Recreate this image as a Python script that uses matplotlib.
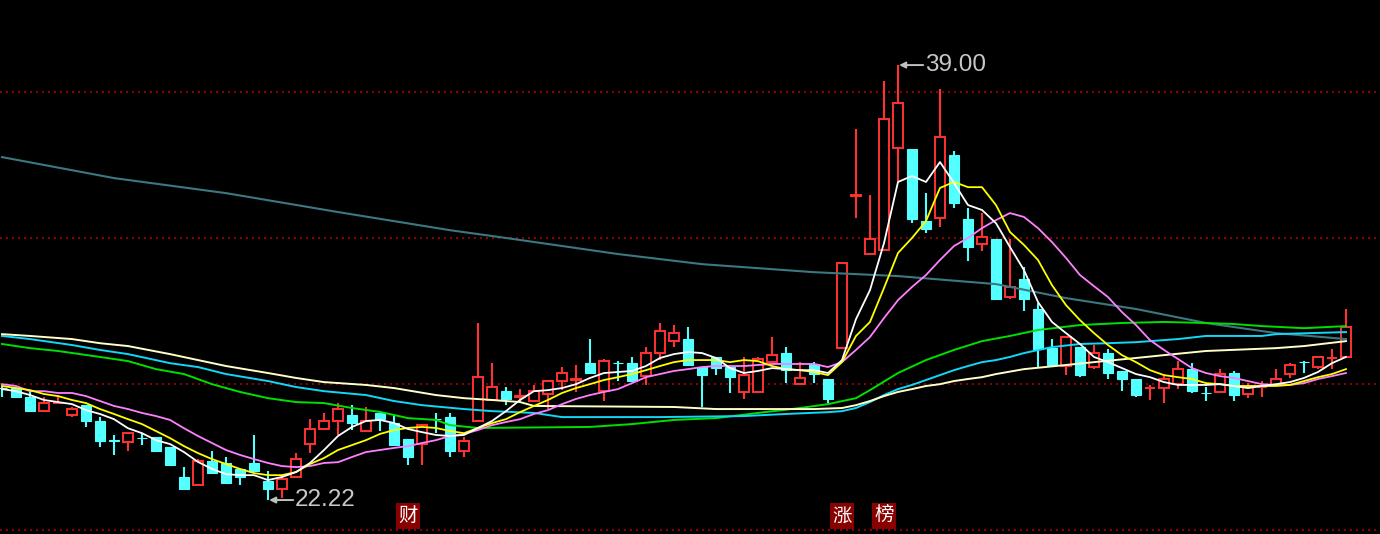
import matplotlib.pyplot as plt
import matplotlib.transforms as mtransforms
import numpy as np

plt.rcParams['font.family'] = ['Liberation Sans', 'Noto Sans CJK SC', 'DejaVu Sans']

# 日K线数据 (97 根)
opens = [26.55, 26.54, 26.19, 25.65, 25.95, 25.50, 25.88, 25.27, 24.52, 24.46,
         24.62, 24.65, 24.26, 23.11, 22.80, 23.72, 23.65, 23.42, 23.65, 22.95,
         22.64, 23.11, 24.38, 24.96, 25.27, 25.50, 24.88, 25.58, 25.19, 24.57,
         24.38, 25.36, 25.42, 24.11, 25.27, 26.08, 26.42, 26.21, 26.04, 26.31,
         26.81, 26.87, 27.50, 26.42, 27.51, 27.50, 27.00, 27.89, 28.35, 28.43,
         27.35, 27.74, 27.35, 26.39, 26.39, 27.54, 27.89, 26.69, 27.47, 26.89,
         28.08, 33.96, 31.71, 31.86, 35.80, 35.76, 32.98, 33.10, 35.53, 33.06,
         32.10, 32.29, 30.05, 30.74, 29.59, 28.08, 27.39, 28.12, 27.35, 27.89,
         27.20, 26.89, 26.53, 26.54, 26.69, 27.27, 26.36, 26.39, 27.12, 26.31,
         26.57, 26.66, 27.08, 27.55, 27.35, 27.69, 27.74]
highs = [26.62, 26.54, 26.39, 26.19, 26.27, 25.81, 25.88, 25.42, 24.73, 24.80,
         24.80, 24.65, 24.26, 23.49, 23.80, 24.11, 23.88, 23.42, 24.73, 23.34,
         23.18, 24.03, 25.34, 25.58, 25.96, 25.88, 25.81, 25.65, 25.50, 24.57,
         25.11, 25.58, 25.58, 24.65, 29.05, 27.50, 26.58, 26.50, 26.66, 26.81,
         27.35, 27.43, 28.43, 27.66, 27.58, 27.74, 28.12, 29.05, 28.97, 28.89,
         27.35, 27.74, 27.35, 27.74, 27.74, 28.51, 28.12, 27.54, 27.54, 26.89,
         31.36, 36.53, 33.98, 38.38, 39.00, 35.76, 34.06, 38.07, 35.68, 33.48,
         33.29, 32.29, 32.29, 31.21, 29.82, 28.43, 28.51, 28.12, 28.20, 28.04,
         27.20, 26.89, 26.66, 27.04, 27.58, 27.50, 26.58, 27.27, 27.20, 26.73,
         26.81, 27.27, 27.50, 27.58, 27.74, 28.04, 29.59]
lows = [26.19, 26.15, 25.65, 25.65, 25.95, 25.42, 25.04, 24.26, 23.96, 24.11,
        24.34, 24.11, 23.57, 22.64, 22.80, 23.26, 22.88, 22.80, 23.34, 22.22,
        22.30, 23.07, 24.03, 24.96, 24.73, 24.92, 24.88, 24.88, 24.34, 23.57,
        23.57, 24.80, 23.88, 23.88, 25.27, 26.08, 25.88, 25.96, 26.04, 25.73,
        26.46, 26.39, 27.12, 26.04, 26.81, 26.81, 26.66, 27.62, 28.12, 27.43,
        25.81, 27.04, 26.35, 26.12, 26.39, 27.54, 26.73, 26.69, 26.73, 25.96,
        28.08, 33.10, 31.71, 31.86, 34.50, 32.90, 32.52, 32.75, 33.48, 31.44,
        31.82, 29.97, 29.97, 29.51, 27.35, 27.43, 27.04, 26.96, 27.27, 26.89,
        26.42, 26.19, 26.08, 25.96, 26.50, 26.35, 26.04, 26.39, 26.04, 26.15,
        26.19, 26.66, 26.93, 27.12, 27.27, 27.27, 27.74]
closes = [26.54, 26.19, 25.65, 25.96, 25.96, 25.73, 25.27, 24.50, 24.50, 24.80,
          24.61, 24.11, 23.57, 22.64, 23.72, 23.26, 22.88, 23.11, 23.34, 22.64,
          23.03, 23.80, 24.96, 25.27, 25.73, 25.19, 25.27, 25.34, 24.34, 23.88,
          25.11, 25.34, 24.11, 24.50, 26.96, 26.58, 26.12, 26.23, 26.42, 26.81,
          27.12, 26.89, 27.12, 27.58, 27.50, 26.81, 27.89, 28.74, 28.66, 27.43,
          27.04, 27.31, 26.96, 27.04, 27.66, 27.81, 27.23, 26.93, 27.08, 26.12,
          31.36, 33.98, 32.29, 36.92, 37.53, 33.06, 32.67, 36.22, 33.68, 31.98,
          32.37, 29.97, 30.44, 29.97, 28.04, 27.43, 28.51, 27.04, 27.89, 27.12,
          26.89, 26.27, 26.54, 26.89, 27.27, 26.42, 26.35, 27.08, 26.27, 26.58,
          26.58, 26.89, 27.43, 27.54, 27.74, 27.70, 28.89]

# 均线 (每根K线一个值)
ma5 = [26.50, 26.42, 26.27, 26.08, 26.00, 25.92, 25.69, 25.54, 25.34, 24.99,
       24.80, 24.53, 24.38, 24.07, 23.69, 23.42, 23.22, 23.18, 23.18, 22.99,
       23.11, 23.30, 23.65, 24.15, 24.69, 25.04, 25.27, 25.31, 25.19, 24.96,
       24.84, 24.73, 24.69, 24.73, 25.00, 25.27, 25.65, 26.08, 26.42, 26.46,
       26.54, 26.69, 26.93, 27.12, 27.16, 27.20, 27.39, 27.70, 27.85, 27.93,
       27.89, 27.70, 27.31, 27.12, 27.20, 27.31, 27.27, 27.23, 27.23, 27.12,
       27.62, 29.20, 30.32, 32.13, 34.49, 34.72, 34.49, 35.26, 34.45, 33.60,
       33.41, 32.90, 31.98, 31.09, 29.86, 29.09, 28.66, 28.24, 27.74, 27.54,
       27.31, 27.08, 26.96, 26.77, 26.66, 26.66, 26.66, 26.69, 26.62, 26.54,
       26.62, 26.69, 26.77, 26.93, 27.16, 27.50, 27.74]
ma10 = [26.62, 26.54, 26.46, 26.31, 26.23, 26.08, 25.96, 25.73, 25.54, 25.34,
        25.15, 24.88, 24.61, 24.30, 24.03, 23.80, 23.61, 23.42, 23.26, 23.18,
        23.18, 23.30, 23.61, 23.84, 24.15, 24.34, 24.53, 24.77, 24.92, 25.00,
        25.04, 25.00, 24.88, 24.80, 25.00, 25.19, 25.34, 25.61, 25.85, 26.08,
        26.35, 26.54, 26.69, 26.85, 26.96, 27.08, 27.23, 27.39, 27.54, 27.62,
        27.62, 27.62, 27.54, 27.62, 27.58, 27.39, 27.27, 27.23, 27.16, 27.04,
        27.54, 28.55, 29.09, 30.40, 31.75, 32.33, 32.98, 34.26, 34.49, 34.29,
        34.29, 33.60, 32.56, 32.06, 31.48, 30.51, 29.74, 29.16, 28.66, 28.20,
        27.81, 27.54, 27.23, 27.04, 26.96, 26.89, 26.73, 26.69, 26.62, 26.62,
        26.62, 26.62, 26.66, 26.81, 26.96, 27.08, 27.27]
ma20 = [26.69, 26.62, 26.42, 26.42, 26.35, 26.35, 26.23, 26.04, 25.85, 25.73,
        25.58, 25.46, 25.31, 24.99, 24.69, 24.42, 24.15, 23.96, 23.80, 23.65,
        23.53, 23.49, 23.53, 23.65, 23.68, 23.88, 24.07, 24.15, 24.23, 24.30,
        24.42, 24.53, 24.69, 24.77, 24.92, 25.11, 25.23, 25.34, 25.54, 25.69,
        25.92, 26.12, 26.27, 26.39, 26.50, 26.73, 26.96, 27.08, 27.20, 27.27,
        27.35, 27.39, 27.39, 27.39, 27.43, 27.47, 27.47, 27.47, 27.47, 27.35,
        27.54, 28.01, 28.51, 29.24, 29.93, 30.44, 30.90, 31.48, 32.02, 32.33,
        32.71, 33.02, 33.29, 33.14, 32.71, 32.17, 31.56, 30.90, 30.47, 30.05,
        29.47, 28.97, 28.39, 28.01, 27.66, 27.31, 27.12, 27.00, 26.93, 26.81,
        26.69, 26.66, 26.66, 26.73, 26.89, 27.00, 27.12]

# 长周期均线 (按K线序号读取)
cream_idx = [0, 2, 5, 7, 9, 12, 14, 16, 19, 21, 23, 26, 28, 31, 33, 35, 37, 38,
             48, 51, 58, 60, 61, 62, 63, 64, 65, 66, 67, 68, 69, 70, 71, 73, 76,
             78, 81, 83, 86, 91, 93, 96]
cream_val = [28.62, 28.55, 28.43, 28.27, 28.16, 27.85, 27.62, 27.39, 27.12, 26.93,
             26.77, 26.66, 26.54, 26.27, 26.15, 26.08, 26.00, 25.85, 25.81, 25.73,
             25.73, 25.77, 25.88, 26.04, 26.23, 26.39, 26.50, 26.62, 26.69, 26.81,
             26.89, 26.96, 27.08, 27.27, 27.43, 27.54, 27.70, 27.81, 27.97, 28.08,
             28.16, 28.35]
blue_idx = [0, 2, 5, 7, 9, 12, 14, 16, 19, 21, 23, 26, 28, 30, 33, 35, 38, 40,
            47, 53, 56, 59, 60, 61, 62, 63, 64, 65, 66, 67, 68, 69, 70, 71, 72,
            73, 75, 77, 79, 81, 84, 86, 90, 91, 96]
blue_val = [28.55, 28.43, 28.20, 28.01, 27.85, 27.50, 27.35, 27.08, 26.81, 26.58,
            26.42, 26.27, 26.04, 25.88, 25.73, 25.65, 25.58, 25.42, 25.42, 25.46,
            25.54, 25.61, 25.65, 25.77, 26.00, 26.27, 26.50, 26.66, 26.85, 27.04,
            27.23, 27.39, 27.54, 27.62, 27.74, 27.89, 28.12, 28.24, 28.27, 28.31,
            28.43, 28.55, 28.55, 28.62, 28.70]
green_idx = [0, 2, 4, 7, 9, 11, 13, 15, 17, 19, 21, 23, 25, 27, 29, 31, 32, 34,
             42, 45, 48, 51, 54, 57, 59, 61, 62, 64, 66, 68, 70, 72, 74, 77, 80,
             83, 86, 88, 90, 93, 96]
green_val = [28.24, 28.08, 27.97, 27.74, 27.58, 27.27, 27.08, 26.69, 26.39, 26.15,
             26.00, 25.96, 25.77, 25.62, 25.38, 25.31, 25.11, 25.00, 25.04, 25.15,
             25.31, 25.38, 25.58, 25.77, 25.92, 26.15, 26.46, 27.12, 27.62, 28.01,
             28.35, 28.55, 28.78, 28.97, 29.05, 29.09, 29.05, 29.01, 28.93, 28.85,
             28.93]
teal_idx = [0, 8, 16, 24, 32, 36, 44, 50, 58, 64, 71, 76, 81, 86, 91, 96]
teal_val = [35.45, 34.64, 34.06, 33.33, 32.63, 32.33, 31.71, 31.32, 31.01, 30.86,
            30.55, 30.01, 29.59, 29.05, 28.66, 28.43]

grid_levels = [37.96, 32.33, 26.69, 21.06]

# 标记
event_idx = [29, 60, 63]
event_text = ['财', '涨', '榜']

RED = '#FF3232'
CYAN = '#54FFFF'

fig = plt.figure(figsize=(13.8, 5.34), dpi=100, facecolor='black')
ax = fig.add_axes([0, 0, 1, 1])
ax.set_facecolor('black')

for lv in grid_levels:
    ax.axhline(lv, color='#8C0000', lw=1.44, linestyle=(0, (1, 2)), zorder=1)

o = np.array(opens); h = np.array(highs); l = np.array(lows); c = np.array(closes)
x = np.arange(len(o))
up = c >= o
dn = ~up
top = np.maximum(o, c)
bot = np.minimum(o, c)

# 阴线: 实心
ax.vlines(x[dn], l[dn], h[dn], color=CYAN, lw=1.5, zorder=2)
ax.bar(x[dn], top[dn] - bot[dn], bottom=bot[dn], width=0.72,
       color=CYAN, edgecolor=CYAN, lw=0.8, zorder=3)
# 阳线: 空心
ax.vlines(x[up], top[up], h[up], color=RED, lw=1.5, zorder=2)
ax.vlines(x[up], l[up], bot[up], color=RED, lw=1.5, zorder=2)
ax.bar(x[up], top[up] - bot[up], bottom=bot[up], width=0.68,
       facecolor='black', edgecolor=RED, lw=1.4, zorder=3)

# 均线
ax.plot(teal_idx, teal_val, color='#3C7882', lw=1.5, zorder=4)
ax.plot(green_idx, green_val, color='#00E000', lw=1.4, zorder=4)
ax.plot(blue_idx, blue_val, color='#10D8F8', lw=1.4, zorder=4)
ax.plot(cream_idx, cream_val, color='#FFFFC8', lw=1.4, zorder=4)
ax.plot(x, ma20, color='#FF80FF', lw=1.3, zorder=5)
ax.plot(x, ma10, color='#FFFF00', lw=1.3, zorder=5)
ax.plot(x, ma5, color='#FFFFFF', lw=1.3, zorder=5)

# 最高/最低价标注
for i, val in [(int(np.argmax(h)), h.max()), (int(np.argmin(l)), l.min())]:
    ax.annotate('', xy=(i + 0.08, val), xytext=(i + 1.8, val),
                arrowprops=dict(arrowstyle='-|>', color='#C0C0C0', lw=1.4,
                                mutation_scale=9, shrinkA=0, shrinkB=0),
                zorder=6)
    ax.annotate(f'{val:.2f}', xy=(i, val), xytext=(27, -6),
                textcoords='offset pixels', color='#C8C8C8', fontsize=17.5,
                ha='left', va='baseline', zorder=6)

trans = mtransforms.blended_transform_factory(ax.transData, ax.transAxes)
for i, t in zip(event_idx, event_text):
    ax.text(i, 0.034, t, transform=trans, color='white', fontsize=14,
            family=['Noto Sans CJK SC', 'DejaVu Sans'], ha='center', va='center',
            bbox=dict(boxstyle='square,pad=0.12', fc='#880000', ec='none'),
            zorder=6)

ax.set_xlim(-0.143, 98.43)
ax.set_ylim(20.91, 41.51)
ax.axis('off')

fig.savefig('out.png', dpi=100, facecolor='black')
